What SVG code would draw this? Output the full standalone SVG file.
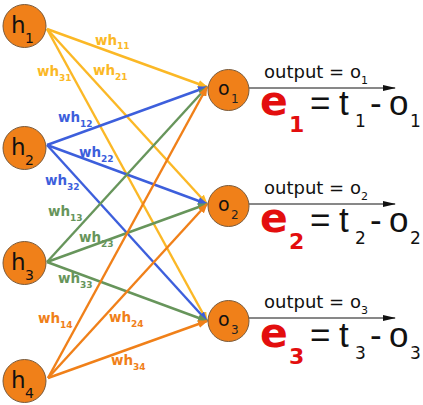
<svg xmlns="http://www.w3.org/2000/svg" width="423" height="405" viewBox="0 0 423 405">
<style>
text{font-family:"DejaVu Sans","Liberation Sans",sans-serif}
.node{fill:#f08019;stroke:#7a5b3c;stroke-width:1}
.c{fill:none;stroke-width:2.4}
.y{stroke:#fbb826}.b{stroke:#3d5fdc}.g{stroke:#67955b}.o{stroke:#f08019}
.ty{fill:#fbb826}.tb{fill:#3d5fdc}.tg{fill:#67955b}.to{fill:#f08019}
.w{font-size:13.5px;font-weight:bold}
.s{font-size:9px;font-weight:bold}
.hl{font-size:23px;fill:#111}
.hs{font-size:14px;fill:#111}
.ol{font-size:19px;fill:#111}
.os{font-size:12px;fill:#222}
.out{font-size:18px;fill:#111}
.outs{font-size:11px;fill:#111}
.e{font-size:41px;font-weight:bold;fill:#e30e0e}
.es{font-size:22px;font-weight:bold;fill:#e30e0e}
.eq{font-family:"Liberation Sans",Arial,sans-serif;font-size:35px;fill:#111}
.eqs{font-size:17px;fill:#111}
</style>
<defs>
<marker id="ay" markerUnits="userSpaceOnUse" markerWidth="10" markerHeight="8" refX="9" refY="4" orient="auto"><path d="M0,0 L10,4 L0,8 z" fill="#fbb826"/></marker>
<marker id="ab" markerUnits="userSpaceOnUse" markerWidth="10" markerHeight="8" refX="9" refY="4" orient="auto"><path d="M0,0 L10,4 L0,8 z" fill="#3d5fdc"/></marker>
<marker id="ag" markerUnits="userSpaceOnUse" markerWidth="10" markerHeight="8" refX="9" refY="4" orient="auto"><path d="M0,0 L10,4 L0,8 z" fill="#67955b"/></marker>
<marker id="ao" markerUnits="userSpaceOnUse" markerWidth="10" markerHeight="8" refX="9" refY="4" orient="auto"><path d="M0,0 L10,4 L0,8 z" fill="#f08019"/></marker>
<marker id="ak" markerUnits="userSpaceOnUse" markerWidth="13" markerHeight="6" refX="12" refY="3" orient="auto"><path d="M0,0 L13,3 L0,6 z" fill="#111"/></marker>
</defs>
<g id="connectors">
<line class="c y" x1="47" y1="29" x2="207" y2="87" marker-end="url(#ay)"/>
<line class="c y" x1="47" y1="29" x2="207" y2="204" marker-end="url(#ay)"/>
<line class="c y" x1="47" y1="29" x2="207" y2="321" marker-end="url(#ay)"/>
<line class="c b" x1="47" y1="145" x2="207" y2="87" marker-end="url(#ab)"/>
<line class="c b" x1="47" y1="145" x2="207" y2="204" marker-end="url(#ab)"/>
<line class="c b" x1="47" y1="145" x2="207" y2="321" marker-end="url(#ab)"/>
<line class="c g" x1="47" y1="262" x2="207" y2="87" marker-end="url(#ag)"/>
<line class="c g" x1="47" y1="262" x2="207" y2="204" marker-end="url(#ag)"/>
<line class="c g" x1="47" y1="262" x2="207" y2="321" marker-end="url(#ag)"/>
<line class="c o" x1="48" y1="378" x2="207" y2="87" marker-end="url(#ao)"/>
<line class="c o" x1="48" y1="378" x2="207" y2="204" marker-end="url(#ao)"/>
<line class="c o" x1="48" y1="378" x2="207" y2="321" marker-end="url(#ao)"/>
<line x1="249" y1="88" x2="395" y2="88" stroke="#111" stroke-width="1" marker-end="url(#ak)"/>
<line x1="249" y1="204" x2="395" y2="204" stroke="#111" stroke-width="1" marker-end="url(#ak)"/>
<line x1="248" y1="318" x2="395" y2="318" stroke="#111" stroke-width="1" marker-end="url(#ak)"/>
</g>
<g id="weight-labels">
<text class="w ty" x="95" y="45">wh<tspan class="s" dy="4">11</tspan></text>
<text class="w ty" x="37" y="76">wh<tspan class="s" dy="5">31</tspan></text>
<text class="w ty" x="93" y="75">wh<tspan class="s" dy="5">21</tspan></text>
<text class="w tb" x="58" y="122">wh<tspan class="s" dy="5">12</tspan></text>
<text class="w tb" x="79" y="157">wh<tspan class="s" dy="5">22</tspan></text>
<text class="w tb" x="45" y="185">wh<tspan class="s" dy="5">32</tspan></text>
<text class="w tg" x="48" y="216">wh<tspan class="s" dy="5">13</tspan></text>
<text class="w tg" x="79" y="242">wh<tspan class="s" dy="5">23</tspan></text>
<text class="w tg" x="58" y="283">wh<tspan class="s" dy="5">33</tspan></text>
<text class="w to" x="38" y="323">wh<tspan class="s" dy="5">14</tspan></text>
<text class="w to" x="109" y="322">wh<tspan class="s" dy="5">24</tspan></text>
<text class="w to" x="111" y="365">wh<tspan class="s" dy="5">34</tspan></text>
</g>
<g id="h1"><circle class="node" cx="24.5" cy="26" r="21.5"/><text class="hl" x="11" y="33">h</text><text class="hs" x="25" y="43">1</text></g>
<g id="h2"><circle class="node" cx="24.5" cy="148" r="21.5"/><text class="hl" x="11" y="155">h</text><text class="hs" x="25" y="165">2</text></g>
<g id="h3"><circle class="node" cx="24.5" cy="263" r="21.5"/><text class="hl" x="11" y="270">h</text><text class="hs" x="25" y="280">3</text></g>
<g id="h4"><circle class="node" cx="24.5" cy="381" r="21.5"/><text class="hl" x="11" y="388">h</text><text class="hs" x="25" y="398">4</text></g>
<g id="o1"><circle class="node" cx="228.5" cy="90" r="20.5"/><text class="ol" x="218" y="95">o</text><text class="os" x="231" y="103">1</text></g>
<g id="o2"><circle class="node" cx="228.5" cy="206" r="20.5"/><text class="ol" x="218" y="211">o</text><text class="os" x="231" y="219">2</text></g>
<g id="o3"><circle class="node" cx="228.5" cy="321" r="20.5"/><text class="ol" x="218" y="326">o</text><text class="os" x="231" y="334">3</text></g>
<g id="error1">
<text class="out" x="264" y="78">output = o<tspan class="outs" dy="6">1</tspan></text>
<text class="e" x="260" y="115">e</text><text class="es" x="289" y="132">1</text>
<text class="eq" x="310" y="115">=</text>
<text class="eq" x="339" y="115">t</text><text class="eqs" x="355" y="127">1</text>
<text class="eq" x="370" y="115">-</text>
<text class="eq" x="389" y="115">o</text><text class="eqs" x="410" y="127">1</text>
</g>
<g id="error2">
<text class="out" x="264" y="194">output = o<tspan class="outs" dy="6">2</tspan></text>
<text class="e" x="260" y="232">e</text><text class="es" x="289" y="249">2</text>
<text class="eq" x="310" y="232">=</text>
<text class="eq" x="339" y="232">t</text><text class="eqs" x="355" y="244">2</text>
<text class="eq" x="370" y="232">-</text>
<text class="eq" x="389" y="232">o</text><text class="eqs" x="410" y="244">2</text>
</g>
<g id="error3">
<text class="out" x="264" y="308">output = o<tspan class="outs" dy="6">3</tspan></text>
<text class="e" x="260" y="347">e</text><text class="es" x="289" y="364">3</text>
<text class="eq" x="310" y="347">=</text>
<text class="eq" x="339" y="347">t</text><text class="eqs" x="355" y="359">3</text>
<text class="eq" x="370" y="347">-</text>
<text class="eq" x="389" y="347">o</text><text class="eqs" x="410" y="359">3</text>
</g>
</svg>
